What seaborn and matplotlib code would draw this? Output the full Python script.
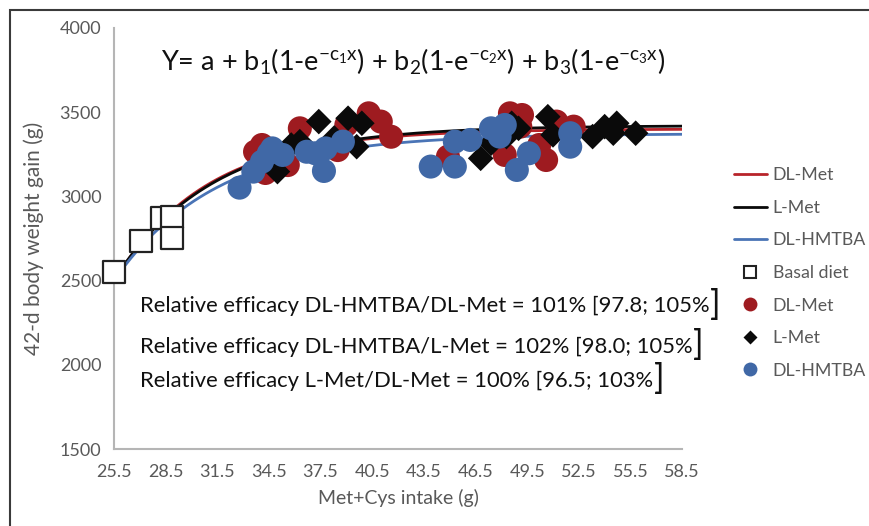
import numpy as np
import pandas as pd
import matplotlib
matplotlib.use("Agg")
import matplotlib.pyplot as plt
from matplotlib.patches import Rectangle
from matplotlib.lines import Line2D
import seaborn as sns
from matplotlib import font_manager

# ── data ─────────────────────────────────────────────────────────────────────
basal_x = [25.5, 27.1, 28.3, 28.9, 28.9]
basal_y = [2550, 2738, 2872, 2875, 2752]

dlmet_x = [33.7, 34.1, 34.3, 35.6, 36.3, 38.5, 39.0, 40.3, 41.0, 41.6,
           44.9, 48.2, 48.5, 49.2, 49.1, 50.2, 50.6, 51.2, 52.2]
dlmet_y = [3265, 3305, 3139, 3186, 3404, 3275, 3424, 3493, 3444, 3354,
           3236, 3246, 3493, 3483, 3414, 3305, 3216, 3444, 3414]

lmet_x = [35.0, 35.8, 36.3, 37.4, 38.3, 39.1, 39.6, 39.9,
          46.8, 47.4, 48.3, 48.6, 49.0, 50.7, 51.0, 53.3, 54.0, 54.5, 54.7, 55.8]
lmet_y = [3147, 3305, 3325, 3444, 3347, 3464, 3295, 3434,
          3226, 3315, 3355, 3434, 3404, 3473, 3365, 3355, 3414, 3375, 3434, 3375]

hmtba_x = [32.8, 33.6, 34.1, 34.5, 34.7, 35.3, 36.7, 37.2, 37.8, 37.7, 38.8,
           43.9, 45.3, 45.3, 46.2, 47.4, 47.9, 48.2, 48.9, 49.6, 52.0, 52.0]
hmtba_y = [3052, 3147, 3206, 3256, 3285, 3246, 3265, 3256, 3285, 3151, 3325,
           3177, 3177, 3325, 3335, 3404, 3355, 3424, 3157, 3256, 3375, 3295]

# fitted curves Y = a + b(1 - e^(-c(x - 25.5))), parameters
curve_names = ["DL-Met", "L-Met", "DL-HMTBA"]
curve_a = [2495, 2505, 2500]
curve_b = [905, 915, 872]
curve_c = [0.185, 0.172, 0.168]

x_ticks = [25.5, 28.5, 31.5, 34.5, 37.5, 40.5, 43.5, 46.5, 49.5, 52.5, 55.5, 58.5]
y_ticks = [1500, 2000, 2500, 3000, 3500, 4000]

efficacy_lines = [
    "Relative efficacy DL-HMTBA/DL-Met = 101% [97.8; 105%",
    "Relative efficacy DL-HMTBA/L-Met = 102% [98.0; 105%",
    "Relative efficacy L-Met/DL-Met = 100% [96.5; 103%",
]

RED, BLACK, BLUE = "#9e1b20", "#0a0a0a", "#4068a6"
LINE_RED, LINE_BLUE = "#b8242a", "#4a74b6"
GREY = "#595959"

sns.set_style("white")
names = {f.name for f in font_manager.fontManager.ttflist}
main_font = "Lato" if "Lato" in names else "DejaVu Sans"
plt.rcParams["font.family"] = [main_font, "DejaVu Sans"]
plt.rcParams["mathtext.fontset"] = "custom"
plt.rcParams["mathtext.rm"] = main_font
plt.rcParams["mathtext.it"] = main_font
plt.rcParams["mathtext.sf"] = main_font

fig = plt.figure(figsize=(8.69, 5.26), dpi=100)
ax = fig.add_axes([0.131, 0.146, 0.654, 0.801])

# ── curves ───────────────────────────────────────────────────────────────────
xs = np.linspace(25.5, 58.5, 200)
curve_rows = []
for n, a, b, c in zip(curve_names, curve_a, curve_b, curve_c):
    for xv in xs:
        curve_rows.append({"x": xv, "y": a + b * (1 - np.exp(-c * (xv - 25.5))), "fit": n})
curves = pd.DataFrame(curve_rows)
sns.lineplot(data=curves, x="x", y="y", hue="fit", hue_order=curve_names,
             palette=[LINE_RED, BLACK, LINE_BLUE], linewidth=2, ax=ax,
             legend=False, zorder=2)

# ── points ───────────────────────────────────────────────────────────────────
sns.scatterplot(x=dlmet_x, y=dlmet_y, color=RED, s=300, marker="o",
                edgecolor="none", ax=ax, zorder=3)
sns.scatterplot(x=lmet_x, y=lmet_y, color=BLACK, s=170, marker="D",
                edgecolor="none", ax=ax, zorder=4)
sns.scatterplot(x=hmtba_x, y=hmtba_y, color=BLUE, s=300, marker="o",
                edgecolor="none", ax=ax, zorder=5)
sns.scatterplot(x=basal_x, y=basal_y, color="white", s=260, marker="s",
                edgecolor="#222222", linewidth=1.6, ax=ax, zorder=6)
for coll in ax.collections:
    coll.set_clip_on(False)

ax.set_xlim(25.5, 58.5)
ax.set_ylim(1500, 4000)
ax.set_xticks(x_ticks)
ax.set_yticks(y_ticks)
ax.set_xticklabels([f"{t:.1f}" for t in x_ticks])
ax.set_yticklabels([str(t) for t in y_ticks])
ax.tick_params(axis="both", direction="out", length=5, width=1, color="#b5b5b5",
               labelcolor=GREY, labelsize=13, pad=4)
ax.tick_params(axis="x", pad=6)
sns.despine(ax=ax)
for s in ["left", "bottom"]:
    ax.spines[s].set_color("#b5b5b5")
    ax.spines[s].set_linewidth(1.5)
ax.set_xlabel("Met+Cys intake (g)", color=GREY, fontsize=14, labelpad=6)
ax.set_ylabel("42-d body weight gain (g)", color=GREY, fontsize=15, labelpad=11)

# ── equation + efficacy texts ────────────────────────────────────────────────
eq = (r"Y= a + b$_1$(1-e$^{-c_1x}$) + b$_2$(1-e$^{-c_2x}$) + b$_3$(1-e$^{-c_3x}$)")
fig.text(0.475, 0.882, eq, ha="center", va="center", fontsize=19.5, color="#111111")

text_y = [0.418, 0.341, 0.276]
fig.canvas.draw()
renderer = fig.canvas.get_renderer()
for line, ty in zip(efficacy_lines, text_y):
    t = fig.text(0.161, ty, line, ha="left", va="center", fontsize=15.8, color="#111111")
    bb = t.get_window_extent(renderer)
    fig.text(bb.x1 / fig.bbox.width + 0.001, ty + 0.003, "]", ha="left", va="center",
             fontsize=25, color="#111111")

# ── legend ───────────────────────────────────────────────────────────────────
handles = [
    Line2D([], [], color=LINE_RED, lw=2),
    Line2D([], [], color=BLACK, lw=2),
    Line2D([], [], color=LINE_BLUE, lw=2),
    Line2D([], [], color="none", marker="s", markersize=9, markerfacecolor="white",
           markeredgecolor="#222222", markeredgewidth=1.5),
    Line2D([], [], color="none", marker="o", markersize=10, markerfacecolor=RED,
           markeredgecolor="none"),
    Line2D([], [], color="none", marker="D", markersize=7, markerfacecolor=BLACK,
           markeredgecolor="none"),
    Line2D([], [], color="none", marker="o", markersize=10, markerfacecolor=BLUE,
           markeredgecolor="none"),
]
labels = ["DL-Met", "L-Met", "DL-HMTBA", "Basal diet", "DL-Met", "L-Met", "DL-HMTBA"]
leg = fig.legend(handles, labels, loc="center left", bbox_to_anchor=(0.836, 0.481),
                 frameon=False, fontsize=12.8, handlelength=1.9, handletextpad=0.3,
                 labelspacing=0.93, borderaxespad=0)
for txt in leg.get_texts():
    txt.set_color(GREY)

# outer frame of the original figure
fig.patches.append(Rectangle((0.011, -0.1), 1.2, 1.081, transform=fig.transFigure,
                             fill=False, edgecolor="#3a3a3a", linewidth=1.5))

fig.savefig("out.png", dpi=100)
